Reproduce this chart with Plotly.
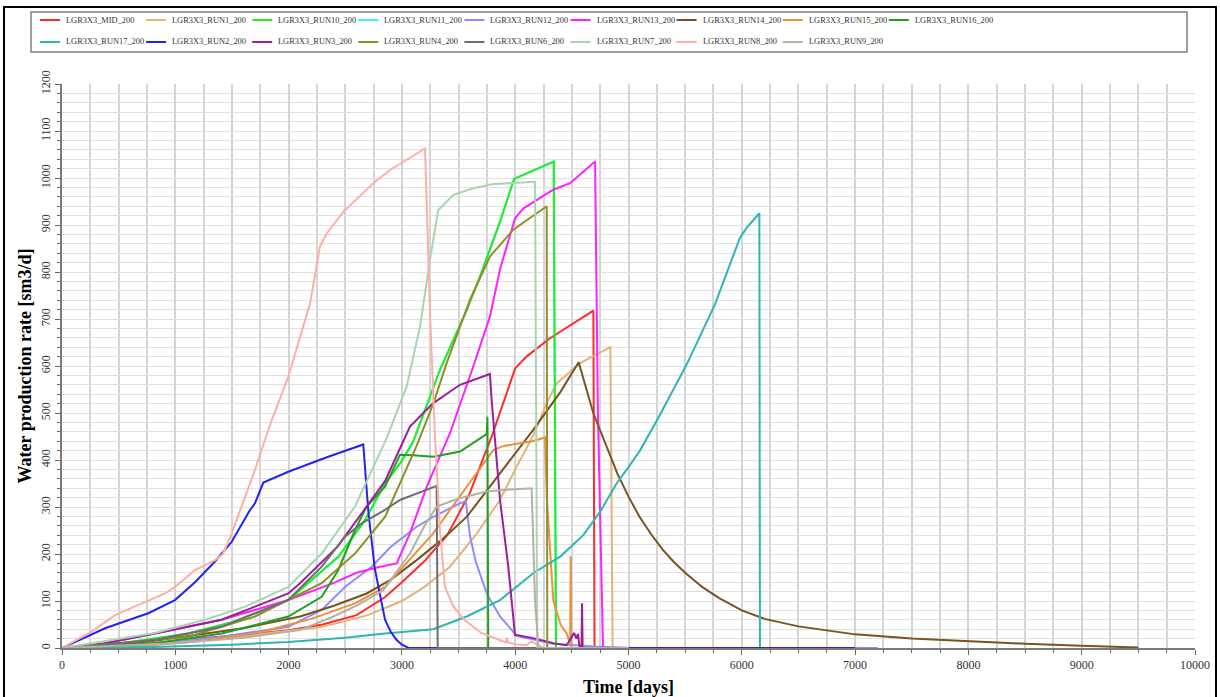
import plotly.graph_objects as go

# ---- water production rate per run: time [days] and rate [sm3/d] ----
mid_days = [0, 400, 800, 1200, 1600, 2000, 2300, 2600, 2850, 3000, 3200, 3400, 3600, 3800, 4000, 4100, 4300, 4500, 4690, 4700, 5000]
mid_rate = [0, 3, 10, 20, 28, 38, 50, 70, 108, 140, 185, 240, 330, 455, 595, 620, 658, 688, 718, 0, 0]

run1_days = [0, 800, 1400, 2000, 2300, 2700, 3000, 3200, 3424, 3650, 3866, 4000, 4159, 4278, 4366, 4572, 4840, 4860, 5000]
run1_rate = [0, 6, 20, 36, 45, 70, 100, 130, 173, 240, 315, 380, 452, 521, 563, 606, 640, 0, 0]

run10_days = [0, 527, 1115, 1500, 1997, 2200, 2439, 2674, 2851, 3000, 3101, 3336, 3572, 3689, 3866, 3990, 4150, 4340, 4360, 5000]
run10_rate = [0, 10, 31, 55, 102, 145, 194, 272, 350, 398, 440, 592, 719, 790, 907, 998, 1015, 1035, 0, 0]

run11_days = [0, 527, 1115, 1500, 1997, 2200, 2439, 2674, 2851, 3000, 3101, 3336, 3572, 3689, 3866, 3990, 4150, 4340, 4360, 5000]
run11_rate = [0, 10, 31, 55, 102, 145, 194, 272, 350, 398, 440, 592, 719, 790, 907, 998, 1015, 1035, 0, 0]

run12_days = [0, 820, 1409, 1997, 2292, 2498, 2733, 2900, 3130, 3277, 3513, 3565, 3600, 3650, 3750, 3866, 4013, 4336, 4690, 5050, 7200]
run12_rate = [0, 10, 24, 45, 81, 130, 173, 215, 258, 279, 308, 312, 240, 185, 115, 67, 26, 9, 3, 0, 0]

run13_days = [0, 232, 820, 1409, 1997, 2395, 2600, 2807, 2954, 3071, 3219, 3424, 3630, 3777, 3866, 3924, 4000, 4071, 4336, 4484, 4705, 4730, 4775, 5000]
run13_rate = [0, 3, 31, 60, 102, 138, 160, 173, 180, 244, 343, 457, 599, 705, 806, 854, 915, 935, 975, 989, 1035, 500, 0, 0]

run14_days = [0, 400, 800, 1200, 1600, 2101, 2400, 2689, 2900, 3130, 3350, 3572, 3866, 4159, 4400, 4560, 4689, 4800, 4900, 5000, 5100, 5200, 5300, 5400, 5500, 5650, 5800, 6000, 6200, 6500, 6800, 7000, 7500, 8000, 8500, 9000, 9500]
run14_rate = [0, 5, 15, 28, 42, 67, 90, 116, 145, 187, 230, 279, 372, 464, 545, 608, 500, 432, 372, 322, 278, 242, 210, 183, 160, 130, 106, 80, 62, 46, 35, 29, 20, 14, 9, 5, 1]

run15_days = [0, 600, 1115, 1703, 2200, 2586, 2851, 3277, 3572, 3807, 3900, 4013, 4150, 4263, 4280, 4336, 4400, 4454, 4485, 4490, 4495, 5000]
run15_rate = [0, 4, 12, 31, 62, 95, 130, 244, 343, 421, 430, 434, 440, 448, 315, 102, 50, 31, 10, 195, 0, 0]

run16_days = [0, 820, 1409, 1997, 2292, 2439, 2586, 2689, 2851, 2983, 3100, 3277, 3513, 3748, 3755, 3762, 5000]
run16_rate = [0, 10, 31, 67, 109, 166, 251, 301, 343, 411, 410, 407, 418, 455, 492, 0, 0]

run17_days = [0, 800, 1500, 1997, 2500, 2851, 3277, 3572, 3866, 4159, 4400, 4601, 4750, 4895, 5000, 5101, 5259, 5511, 5763, 5984, 6046, 6155, 6160, 7000]
run17_rate = [0, 2, 7, 13, 22, 31, 40, 67, 102, 159, 195, 240, 290, 350, 385, 420, 488, 602, 731, 873, 895, 925, 0, 0]

run2_days = [0, 380, 762, 997, 1174, 1350, 1498, 1650, 1703, 1777, 1997, 2350, 2659, 2704, 2760, 2807, 2851, 2900, 2950, 3000, 3060, 7000]
run2_rate = [0, 42, 74, 102, 140, 184, 226, 290, 308, 352, 375, 407, 433, 290, 170, 117, 60, 35, 18, 7, 0, 0]

run3_days = [0, 380, 820, 1409, 1997, 2101, 2430, 2851, 3071, 3277, 3513, 3777, 3792, 3866, 3939, 3998, 4159, 4336, 4454, 4500, 4520, 4540, 4555, 4565, 4585, 4590, 4595, 5000]
run3_rate = [0, 10, 31, 60, 116, 138, 215, 355, 471, 521, 560, 583, 528, 315, 173, 28, 21, 10, 6, 25, 32, 20, 30, 5, 0, 95, 0, 0]

run4_days = [0, 400, 1115, 1703, 2292, 2586, 2851, 3130, 3277, 3395, 3601, 3777, 3983, 4130, 4278, 4283, 5000]
run4_rate = [0, 8, 24, 67, 138, 201, 279, 430, 520, 606, 741, 833, 890, 914, 940, 0, 0]

run6_days = [0, 820, 1409, 1997, 2292, 2498, 2645, 2851, 2983, 3307, 3316, 5000]
run6_rate = [0, 17, 45, 102, 173, 237, 265, 294, 315, 345, 0, 0]

run7_days = [0, 820, 1262, 1615, 1997, 2292, 2586, 2865, 3042, 3160, 3248, 3321, 3454, 3630, 3807, 4000, 4175, 4195, 5000]
run7_rate = [0, 32, 60, 88, 130, 201, 301, 446, 556, 684, 826, 932, 964, 978, 987, 990, 992, 0, 0]

run8_days = [0, 262, 468, 644, 909, 997, 1174, 1350, 1420, 1498, 1703, 1851, 1997, 2189, 2277, 2336, 2483, 2748, 2895, 3204, 3250, 3292, 3336, 3380, 3450, 3550, 3700, 3850, 3915, 3925, 3935, 4000, 4100, 4140, 4200, 4250, 5000]
run8_rate = [0, 35, 70, 88, 116, 130, 166, 187, 200, 244, 379, 485, 577, 733, 854, 882, 928, 989, 1017, 1063, 700, 450, 250, 130, 90, 60, 32, 18, 12, 22, 12, 8, 6, 14, 6, 0, 0]

run9_days = [0, 1000, 1600, 2101, 2395, 2600, 2836, 3071, 3200, 3307, 3500, 3748, 4000, 4145, 4175, 4205, 5000]
run9_rate = [0, 10, 22, 38, 67, 90, 123, 201, 260, 301, 318, 333, 338, 340, 100, 0, 0]

x_ticks = [0, 1000, 2000, 3000, 4000, 5000, 6000, 7000, 8000, 9000, 10000]
y_ticks = [0, 100, 200, 300, 400, 500, 600, 700, 800, 900, 1000, 1100, 1200]

# name, days, rate, colour, legend position (rank)
runs = [
    ("LGR3X3_RUN11_200", run11_days, run11_rate, "#40eef0", 4),
    ("LGR3X3_MID_200", mid_days, mid_rate, "#ff2a2a", 1),
    ("LGR3X3_RUN1_200", run1_days, run1_rate, "#e2b478", 2),
    ("LGR3X3_RUN10_200", run10_days, run10_rate, "#22ee22", 3),
    ("LGR3X3_RUN12_200", run12_days, run12_rate, "#8c8cff", 5),
    ("LGR3X3_RUN13_200", run13_days, run13_rate, "#ff20ff", 6),
    ("LGR3X3_RUN14_200", run14_days, run14_rate, "#7b5322", 7),
    ("LGR3X3_RUN15_200", run15_days, run15_rate, "#e8913e", 8),
    ("LGR3X3_RUN16_200", run16_days, run16_rate, "#22a022", 9),
    ("LGR3X3_RUN17_200", run17_days, run17_rate, "#30b4b4", 10),
    ("LGR3X3_RUN2_200", run2_days, run2_rate, "#2323f0", 11),
    ("LGR3X3_RUN3_200", run3_days, run3_rate, "#9a1f9a", 12),
    ("LGR3X3_RUN4_200", run4_days, run4_rate, "#8f8f28", 13),
    ("LGR3X3_RUN6_200", run6_days, run6_rate, "#6e6e6e", 14),
    ("LGR3X3_RUN7_200", run7_days, run7_rate, "#a6d6b0", 15),
    ("LGR3X3_RUN8_200", run8_days, run8_rate, "#ffaea6", 16),
    ("LGR3X3_RUN9_200", run9_days, run9_rate, "#b8b0a0", 17),
]

SERIF = "Liberation Serif, Times New Roman, serif"

fig = go.Figure()
for name, days, rate, colour, rank in runs:
    fig.add_trace(go.Scatter(
        x=days, y=rate, name=name, mode="lines",
        line=dict(color=colour, width=2), showlegend=False,
    ))

# plot area in pixels: x 62..1195, y 84..648
PL, PR, PT, PB = 62, 1195, 84, 648
def px_x(p):
    return (p - PL) / (PR - PL)
def px_y(p):
    return (PB - p) / (PB - PT)

shapes = [
    # outer frame of the chart
    dict(type="rect", xref="paper", yref="paper", layer="above",
         x0=px_x(4), x1=px_x(1216), y0=px_y(702), y1=px_y(7),
         line=dict(color="#000000", width=2), fillcolor="rgba(0,0,0,0)"),
    # legend box
    dict(type="rect", xref="paper", yref="paper", layer="above",
         x0=px_x(31), x1=px_x(1187), y0=px_y(52), y1=px_y(12),
         line=dict(color="#808080", width=1.5), fillcolor="rgba(0,0,0,0)"),
]
annotations = []

# legend: two rows of nine columns, sample line followed by the run name
COL0, PITCH, ROWS_Y = 40, 106.1, (20, 42)
for name, days, rate, colour, rank in sorted(runs, key=lambda r: r[4]):
    idx = rank - 1
    row, col = divmod(idx, 9)
    x0 = COL0 + col * PITCH
    y = ROWS_Y[row]
    shapes.append(dict(type="line", xref="paper", yref="paper", layer="above",
                       x0=px_x(x0), x1=px_x(x0 + 20), y0=px_y(y), y1=px_y(y),
                       line=dict(color=colour, width=2)))
    annotations.append(dict(xref="paper", yref="paper", x=px_x(x0 + 24), y=px_y(y),
                            xanchor="left", yanchor="middle", showarrow=False,
                            text=name, font=dict(family=SERIF, size=8.4, color="#333333")))

fig.update_layout(
    width=1220, height=697,
    margin=dict(l=PL, r=1220 - PR, t=PT, b=697 - PB, autoexpand=False),
    paper_bgcolor="white", plot_bgcolor="white",
    showlegend=False,
    xaxis=dict(
        range=[0, 10000], tickvals=x_ticks, ticktext=[str(v) for v in x_ticks],
        automargin=False,
        ticks="outside", ticklen=5, tickcolor="#666666", tickwidth=1,
        showline=True, linecolor="#7a7a7a", linewidth=2,
        showgrid=True, gridcolor="#d4d4d4", gridwidth=1.5, zeroline=False,
        minor=dict(dtick=250, tick0=0, ticks="outside", ticklen=3, tickcolor="#666666",
                   showgrid=True, gridcolor="#d4d4d4", gridwidth=1.5),
        tickfont=dict(family=SERIF, size=12, color="#333333"),
        title=dict(text="Time [days]", standoff=11,
                   font=dict(family=SERIF, size=18, color="#000000", weight="bold")),
    ),
    yaxis=dict(
        range=[0, 1200], tickvals=y_ticks, ticktext=[str(v) for v in y_ticks],
        automargin=False,
        tickangle=-90,
        ticks="outside", ticklen=5, tickcolor="#666666", tickwidth=1,
        showline=True, linecolor="#7a7a7a", linewidth=2,
        showgrid=True, gridcolor="#e0e0e0", gridwidth=1, zeroline=False,
        minor=dict(dtick=20, tick0=0, ticks="outside", ticklen=3, tickcolor="#666666",
                   showgrid=True, gridcolor="#e0e0e0", gridwidth=1),
        tickfont=dict(family=SERIF, size=12, color="#333333"),
        title=dict(text="Water production rate [sm3/d]", standoff=3,
                   font=dict(family=SERIF, size=18, color="#000000", weight="bold")),
    ),
    shapes=shapes,
    annotations=annotations,
)

fig.write_html("out.html")
